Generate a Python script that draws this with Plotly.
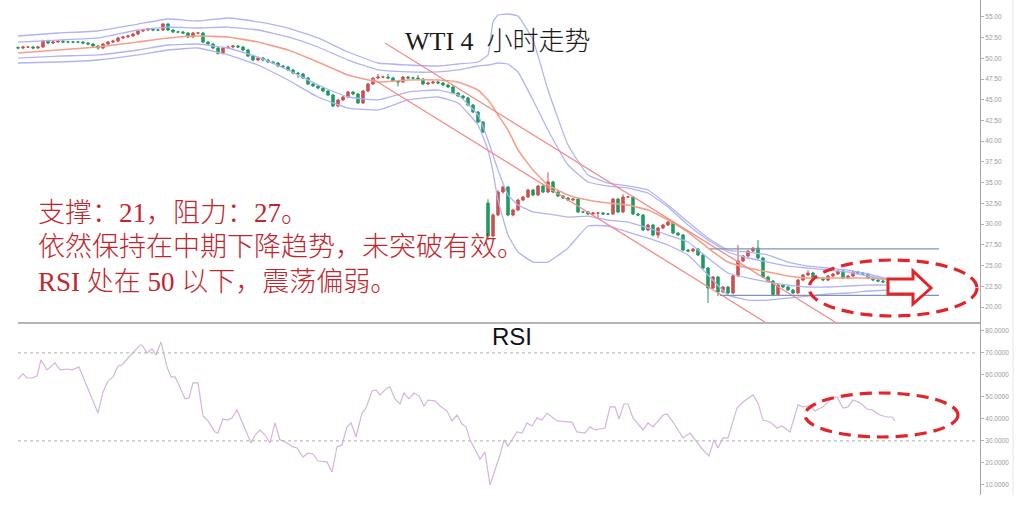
import plotly.graph_objects as go

# ---------------- data ----------------
close = [51.24,51.36,51.36,51.24,51.36,52.08,51.84,51.96,52.08,51.96,
51.96,51.96,51.96,51.84,51.72,51.48,51.24,51.72,51.96,52.08,
52.45,52.57,52.69,52.93,53.29,53.41,53.53,53.41,53.41,54.13,
53.41,53.17,53.17,53.05,52.57,53.05,53.05,51.96,51.72,51.24,
50.60,51.24,51.36,51.48,51.36,51.00,50.27,49.79,50.03,49.79,
49.55,49.43,49.07,48.95,48.59,48.22,48.10,47.62,46.90,46.66,
46.41,46.05,45.57,44.24,44.97,45.33,45.93,45.69,44.61,46.05,
46.90,47.62,47.74,47.74,47.62,47.26,47.14,47.74,47.62,47.62,
47.50,46.90,47.02,47.14,47.02,46.78,46.54,45.81,45.45,45.21,
44.36,43.52,42.31,41.11,28.56,31.09,33.87,34.47,31.09,31.70,
32.90,33.27,34.11,33.51,34.59,33.87,35.08,33.87,33.39,33.15,
32.90,33.02,31.46,31.46,31.22,31.34,31.34,31.22,31.22,33.02,
31.46,33.27,33.27,31.22,31.09,29.29,29.89,28.68,29.53,29.89,
30.25,28.92,28.68,26.87,26.75,26.99,26.27,24.70,22.29,23.62,
21.81,22.41,21.69,23.74,25.55,26.15,26.75,27.11,25.91,23.62,
23.13,21.50,22.65,22.41,22.05,21.69,23.25,23.86,24.10,23.49,
23.49,23.25,23.74,23.98,24.34,23.49,23.74,24.22,24.10,23.98,
23.49,23.25,23.13,23.01,22.89,22.77]

open_ = [51.30,51.24,51.36,51.36,51.24,51.36,52.08,51.84,51.96,52.08,
51.96,51.96,51.96,51.96,51.84,51.72,51.48,51.24,51.72,51.96,
52.08,52.45,52.57,52.69,52.93,53.29,53.41,53.53,53.41,53.41,
54.13,53.41,53.17,53.17,53.05,52.57,53.05,53.05,51.96,51.72,
51.24,50.60,51.24,51.36,51.48,51.36,51.00,50.27,49.79,50.03,
49.79,49.55,49.43,49.07,48.95,48.59,48.22,48.10,47.62,46.90,
46.66,46.41,46.05,45.57,44.24,44.97,45.33,45.93,45.69,44.61,
46.05,46.90,47.62,47.74,47.74,47.62,47.26,47.14,47.74,47.62,
47.62,47.50,46.90,47.02,47.14,47.02,46.78,46.54,45.81,45.45,
45.21,44.36,43.52,42.31,32.54,28.56,31.09,33.87,34.47,31.09,
31.70,32.90,33.27,34.11,33.51,34.59,33.87,35.08,33.87,33.39,
33.15,32.90,33.02,31.46,31.46,31.22,31.34,31.34,31.22,31.22,
33.02,31.46,33.27,33.27,31.22,31.09,29.29,29.89,28.68,29.53,
29.89,30.25,28.92,28.68,26.87,26.75,26.99,26.27,24.70,22.29,
23.62,21.81,22.41,21.69,23.74,25.55,26.15,26.75,27.11,25.91,
23.62,23.13,21.50,22.65,22.41,22.05,21.69,23.25,23.86,24.10,
23.49,23.49,23.25,23.74,23.98,24.34,23.49,23.74,24.22,24.10,
23.98,23.49,23.25,23.13,23.01,22.89]

high = [51.45,51.50,51.50,51.50,51.50,52.25,52.25,52.10,52.22,52.22,
52.10,52.10,52.10,52.10,51.98,51.86,51.62,51.86,52.10,52.22,
52.60,52.71,52.83,53.07,53.43,53.55,53.67,53.67,53.55,54.27,
54.27,53.55,53.31,53.31,53.19,53.19,53.19,53.19,52.10,51.86,
51.38,51.38,51.50,51.62,51.62,51.50,51.14,50.41,50.17,50.17,
49.93,49.69,49.57,49.21,49.09,48.73,48.36,48.24,47.76,47.04,
46.80,46.55,46.19,45.71,45.11,45.47,46.07,46.07,45.83,46.19,
47.04,47.76,48.10,47.88,48.10,47.76,47.40,47.88,47.88,47.76,
47.98,47.64,47.16,47.28,47.28,47.16,46.92,46.68,45.95,45.59,
45.35,44.50,43.66,42.45,33.00,31.30,34.10,34.65,34.60,31.85,
33.05,33.42,34.26,34.26,34.74,34.74,36.25,35.22,34.01,33.53,
33.29,33.16,33.16,31.60,31.60,31.48,31.48,31.48,31.36,33.16,
33.16,33.60,33.41,33.41,31.36,31.23,30.03,30.03,29.67,30.03,
30.39,30.39,29.06,28.82,27.01,27.13,27.13,26.41,24.84,23.76,
23.76,22.55,22.55,23.88,27.48,26.29,26.89,27.25,28.08,26.05,
23.76,23.27,22.79,22.79,22.55,22.19,23.39,24.00,24.45,24.24,
23.63,23.63,23.88,24.12,24.48,24.48,23.88,24.36,24.36,24.24,
24.12,23.63,23.39,23.27,23.15,23.03]

low = [51.10,51.10,51.22,51.10,51.10,51.25,51.70,51.70,51.85,51.82,
51.82,51.82,51.82,51.70,51.58,51.34,51.05,51.10,51.58,51.82,
51.94,52.31,52.43,52.55,52.79,53.15,53.27,53.27,53.27,53.27,
53.27,53.03,53.03,52.91,52.43,52.43,52.91,51.82,51.58,51.10,
50.46,50.46,51.10,51.22,51.22,50.86,50.13,49.65,49.65,49.65,
49.41,49.29,48.93,48.81,48.45,48.08,47.60,47.48,46.76,46.52,
46.27,45.91,45.43,44.10,44.10,44.83,45.19,45.55,44.47,44.47,
45.91,46.76,47.48,47.60,47.48,47.12,46.60,47.00,47.48,47.48,
47.36,46.76,46.76,46.88,46.88,46.64,46.40,45.67,45.31,45.07,
44.22,43.38,42.17,40.97,28.10,28.40,30.95,33.70,30.95,30.95,
31.55,32.76,33.13,33.37,33.37,33.73,33.73,33.73,33.25,33.01,
32.76,32.76,31.32,31.32,31.08,31.08,30.70,31.08,31.08,31.08,
31.32,31.32,33.13,31.08,30.95,29.15,29.15,28.54,28.30,29.39,
29.75,28.78,28.54,26.73,26.61,26.61,26.13,24.56,20.48,22.15,
21.30,21.67,21.55,21.55,23.60,25.41,26.01,26.61,25.77,23.48,
22.99,21.36,21.36,22.27,21.91,21.55,21.55,23.11,23.72,23.35,
23.35,23.11,23.11,23.60,23.84,23.35,23.35,23.60,23.96,23.84,
23.35,23.11,22.99,22.87,22.75,22.63]

candle_idx = list(range(len(close)))

# Bollinger-style bands / moving average, sampled at candle indices
band_idx = [0, 8, 16, 24, 30, 36, 42, 48, 54, 60, 66, 72, 78, 84, 88, 92, 94, 95, 96, 98, 100,
            103, 106, 110, 114, 118, 122, 126, 130, 134, 138, 142, 146, 150, 154, 158, 162, 166, 170, 175]
band_up2 = [52.69, 53.05, 53.29, 54.13, 54.74, 54.50, 54.86, 54.38, 53.65, 52.45, 50.76, 49.43, 49.19, 49.07,
            49.31, 49.55, 50.40, 54.38, 55.22, 55.34, 55.10, 52.20, 46.17, 39.54, 35.92, 34.95, 34.59, 34.11,
            32.30, 30.25, 28.32, 26.87, 26.63, 26.27, 25.42, 24.94, 24.70, 24.46, 23.98, 23.25]
band_up1 = [51.96, 52.20, 52.45, 53.41, 53.77, 53.65, 53.77, 53.41, 52.57, 51.36, 49.79, 48.59, 48.35, 48.35,
            48.59, 49.07, 49.19, 49.31, 49.43, 49.31, 48.35, 44.97, 41.35, 37.13, 35.08, 34.59, 34.35, 33.75,
            32.06, 29.89, 28.08, 26.63, 25.91, 25.42, 24.94, 24.70, 24.46, 24.22, 23.74, 23.13]
ma_mid = [50.64, 51.00, 51.36, 51.96, 52.45, 52.69, 52.57, 51.96, 51.00, 49.55, 47.98, 47.14, 47.38, 47.38,
          47.14, 46.17, 44.97, 44.12, 43.16, 41.35, 38.94, 36.52, 34.71, 33.51, 32.90, 32.54, 32.30, 31.70,
          30.49, 29.04, 27.11, 25.42, 24.70, 24.22, 23.74, 23.49, 23.49, 23.49, 23.49, 23.25]
band_lo1 = [50.03, 50.27, 50.40, 51.00, 51.60, 51.72, 51.24, 50.15, 48.59, 46.78, 45.33, 44.97, 45.93, 46.17,
            45.57, 43.16, 40.14, 38.33, 36.52, 33.51, 32.30, 31.46, 31.22, 30.85, 30.97, 30.49, 30.25, 29.53,
            28.68, 27.84, 25.91, 24.10, 23.49, 23.01, 22.65, 22.41, 22.41, 22.53, 22.65, 22.65]
band_lo2 = [49.43, 49.55, 49.79, 50.40, 51.00, 51.24, 50.40, 49.19, 47.38, 45.33, 44.00, 43.76, 44.97, 45.33,
            44.61, 41.95, 38.94, 36.28, 32.90, 28.68, 26.63, 25.42, 25.42, 27.11, 29.77, 29.77, 29.04, 28.32,
            27.48, 26.27, 23.86, 21.44, 20.84, 20.84, 21.08, 21.32, 21.57, 21.69, 21.93, 22.05]

# descending channel (two parallel trend lines)
chan_up_x = [73.4, 163.4]
chan_up_y = [51.84, 18.19]
chan_lo_x = [70.8, 149.4]
chan_lo_y = [47.56, 18.19]

# support / resistance
resist_x = [138.4, 184.2]
resist_y = [27.0, 27.0]
support_x = [140.4, 184.2]
support_y = [21.4, 21.4]

# RSI
rsi_idx = [0, 1, 1.8, 2.8, 3.8, 4.6, 5.8, 7.4, 8.4, 9.8, 10.8, 12.2, 16, 17, 18, 19, 20, 20.8, 22, 23,
           24.4, 24.8, 25.8, 26.8, 27.6, 28.6, 29.8, 30.6, 31.4, 32, 33.4, 34.2, 35, 36, 37, 38, 39.4, 40,
           41, 42, 42.8, 43.8, 45, 46.6, 47.4, 48.4, 49.4, 50.4, 51.4, 52.4, 53.8, 55, 55.8, 57, 58, 59, 60,
           61.8, 62.8, 63.8, 64.8, 65.8, 66.6, 67.6, 68.8, 69.6, 70.8, 71.6, 72.4, 73.8, 74.4, 75.4, 76.4,
           77.2, 78.2, 79.2, 80.2, 81.2, 82, 83.4, 84.4, 85.8, 86.8, 87.8, 88.8, 89.6, 90.4, 92.4, 93.4,
           94.4, 96.4, 97.2, 98, 99.8, 100.8, 101.8, 102.8, 103.8, 104.8, 105.8, 107.8, 110.8, 111.8,
           113.4, 114.4, 115.4, 117.4, 118.4, 119.4, 120.2, 121.2, 122, 123, 125, 126, 127, 129, 129.8,
           131, 133, 134.4, 135.4, 137, 138.2, 139.2, 140, 141, 142, 143.8, 145, 147, 148, 149, 150.4,
           151.8, 152.8, 154.4, 156, 157, 158.4, 159.4, 161, 162.8, 163.8, 165, 166, 167, 168.4, 169.8,
           170.8, 172.4, 173.8, 174.8, 175.4]
rsi_val = [58.2, 60.5, 58.6, 58.6, 59.5, 66.8, 62.3, 65.5, 62.3, 62.7, 62.3, 63.6, 42.7, 52.3, 57.3, 59.1,
           64.1, 64.5, 67.7, 70.0, 73.6, 73.6, 70.0, 71.8, 69.1, 75.0, 63.6, 59.1, 59.1, 56.4, 49.1, 49.5,
           56.4, 56.4, 41.4, 39.1, 34.1, 33.6, 40.0, 39.5, 40.5, 44.1, 37.3, 29.1, 32.7, 35.0, 32.7, 29.1,
           38.2, 30.5, 29.1, 27.3, 26.8, 22.7, 24.5, 24.1, 20.9, 20.5, 15.9, 27.3, 28.2, 36.4, 38.2, 31.8,
           42.7, 45.0, 52.7, 53.2, 50.9, 54.1, 54.5, 49.1, 46.8, 51.8, 49.1, 51.8, 50.5, 45.9, 48.6, 48.2,
           45.9, 43.6, 39.1, 41.8, 37.7, 36.4, 30.5, 21.8, 25.0, 10.0, 23.6, 30.5, 27.7, 34.1, 33.6, 38.2,
           36.8, 40.5, 39.5, 42.7, 39.1, 38.6, 34.1, 33.6, 36.4, 35.0, 35.9, 45.5, 45.5, 40.0, 46.8, 46.8,
           40.5, 35.0, 38.2, 36.4, 41.8, 42.3, 38.6, 31.4, 33.6, 30.5, 25.9, 23.2, 30.5, 26.8, 31.4, 31.4,
           45.0, 47.7, 50.9, 47.3, 39.5, 38.6, 35.9, 36.8, 34.1, 46.4, 45.5, 45.9, 43.6, 45.5, 49.5, 50.0,
           45.0, 45.5, 48.6, 47.3, 44.5, 44.1, 41.8, 40.9, 40.9, 39.1]
rsi_levels = [70, 30]

price_ticks = [20.0, 22.5, 25.0, 27.5, 30.0, 32.5, 35.0, 37.5, 40.0, 42.5, 45.0, 47.5, 50.0, 52.5, 55.0]
rsi_ticks = [10, 20, 30, 40, 50, 60, 70, 80]

title_text = "WTI 4\u00a0 小时走势"
notes = ["支撑：21，阻力：27。",
         "依然保持在中期下降趋势，未突破有效。",
         "RSI 处在 50 以下，震荡偏弱。"]

# ---------------- layout helpers ----------------
FW, FH = 1024, 507
PW = 980  # plot area width in px (right margin 44)


def pxx(x):
    return x / PW


def pxy(y):
    return 1 - y / FH


BAND = "#b1b4f3"
SALMON = "#f3a08c"
CHAN = "#f28c88"
UP = "#c9514f"
DOWN = "#1f9a63"
RED = "#e3242b"

fig = go.Figure()

for ys in (band_up2, band_up1, band_lo1, band_lo2):
    fig.add_trace(go.Scatter(x=band_idx, y=ys, mode="lines", hoverinfo="skip",
                             line=dict(color=BAND, width=1.3, shape="spline", smoothing=0.35)))
fig.add_trace(go.Scatter(x=band_idx, y=ma_mid, mode="lines", hoverinfo="skip",
                         line=dict(color=SALMON, width=1.6, shape="spline", smoothing=0.35)))
fig.add_trace(go.Scatter(x=chan_up_x, y=chan_up_y, mode="lines", hoverinfo="skip",
                         line=dict(color=CHAN, width=1.3)))
fig.add_trace(go.Scatter(x=chan_lo_x, y=chan_lo_y, mode="lines", hoverinfo="skip",
                         line=dict(color=CHAN, width=1.3)))
fig.add_trace(go.Scatter(x=resist_x, y=resist_y, mode="lines", hoverinfo="skip",
                         line=dict(color="#8193b3", width=1.2)))
fig.add_trace(go.Scatter(x=support_x, y=support_y, mode="lines", hoverinfo="skip",
                         line=dict(color="#8193b3", width=1.2)))

fig.add_trace(go.Candlestick(
    x=candle_idx, open=open_, high=high, low=low, close=close,
    increasing=dict(line=dict(color=UP, width=1), fillcolor=UP),
    decreasing=dict(line=dict(color=DOWN, width=1), fillcolor=DOWN),
    whiskerwidth=0, hoverinfo="skip"))

fig.add_trace(go.Scatter(x=rsi_idx, y=rsi_val, mode="lines", yaxis="y2", hoverinfo="skip",
                         line=dict(color="#d6b4dc", width=1.2)))

shapes = []
for lv in rsi_levels:
    shapes.append(dict(type="line", xref="paper", yref="y2", x0=pxx(18), x1=pxx(976), y0=lv, y1=lv,
                       line=dict(color="#bdbdbd", width=1.2, dash="3px,3px")))
# panel separator
shapes.append(dict(type="line", xref="paper", yref="paper", x0=pxx(18), x1=pxx(980),
                   y0=pxy(323), y1=pxy(323), line=dict(color="#b5b5b5", width=2)))
# right border
shapes.append(dict(type="line", xref="paper", yref="paper", x0=pxx(1013), x1=pxx(1013),
                   y0=pxy(0), y1=pxy(495), line=dict(color="#e6e6e6", width=1)))
# red dashed ellipses
shapes.append(dict(type="circle", xref="paper", yref="paper", x0=pxx(809), x1=pxx(977),
                   y0=pxy(316), y1=pxy(260), line=dict(color=RED, width=3.2, dash="12px,7px")))
shapes.append(dict(type="circle", xref="paper", yref="paper", x0=pxx(805), x1=pxx(958),
                   y0=pxy(437), y1=pxy(393), line=dict(color=RED, width=3.2, dash="12px,7px")))
# hollow arrow
pts = [(888, 279), (913, 279), (913, 271), (931, 288), (913, 304), (913, 294), (888, 294)]
path = "M " + " L ".join(f"{pxx(a):.5f},{pxy(b):.5f}" for a, b in pts) + " Z"
shapes.append(dict(type="path", xref="paper", yref="paper", path=path, fillcolor="white",
                   line=dict(color=RED, width=3)))

annotations = [
    dict(text=title_text, xref="paper", yref="paper", x=pxx(403), y=pxy(42), xanchor="left",
         yanchor="middle", showarrow=False,
         font=dict(family="Liberation Serif, Noto Sans CJK SC", size=26, color="#1a1a1a", weight=300)),
    dict(text="RSI", xref="paper", yref="paper", x=pxx(490), y=pxy(336), xanchor="left",
         yanchor="middle", showarrow=False,
         font=dict(family="Liberation Sans, Arial", size=24, color="#111111")),
]
for k, t in enumerate(notes):
    annotations.append(dict(text=t, xref="paper", yref="paper", x=pxx(36), y=pxy([213, 247, 282][k]),
                            xanchor="left", yanchor="middle", showarrow=False,
                            font=dict(family="Liberation Serif, Noto Sans CJK SC", size=27,
                                      color="#c0272d", weight=300)))

axis_common = dict(side="right", showgrid=False, zeroline=False, showline=True,
                   linecolor="#a8a8a8", linewidth=1, ticks="outside", ticklen=3,
                   tickcolor="#b0b0b0", tickfont=dict(family="Liberation Sans, Arial", size=6.5,
                                                      color="#9a9a9a"))

fig.update_layout(
    width=FW, height=FH, margin=dict(l=0, r=FW - PW, t=0, b=0),
    paper_bgcolor="white", plot_bgcolor="white", showlegend=False,
    xaxis=dict(range=[-3.6, 192.4], visible=False, rangeslider=dict(visible=False), fixedrange=True),
    yaxis=dict(domain=[1 - 323 / FH, 1], range=[18.07, 57.03], tickvals=price_ticks,
               tickformat=".2f", fixedrange=True, **axis_common),
    yaxis2=dict(domain=[1 - 495 / FH, 1 - 323 / FH], range=[5.45, 83.6], anchor="x",
                tickvals=rsi_ticks, tickformat=".4f", fixedrange=True, **axis_common),
    shapes=shapes, annotations=annotations,
)

fig.write_html("out.html", config={"displayModeBar": False, "staticPlot": True},
               post_script="document.body.style.margin='0';document.body.style.overflow='hidden';")
